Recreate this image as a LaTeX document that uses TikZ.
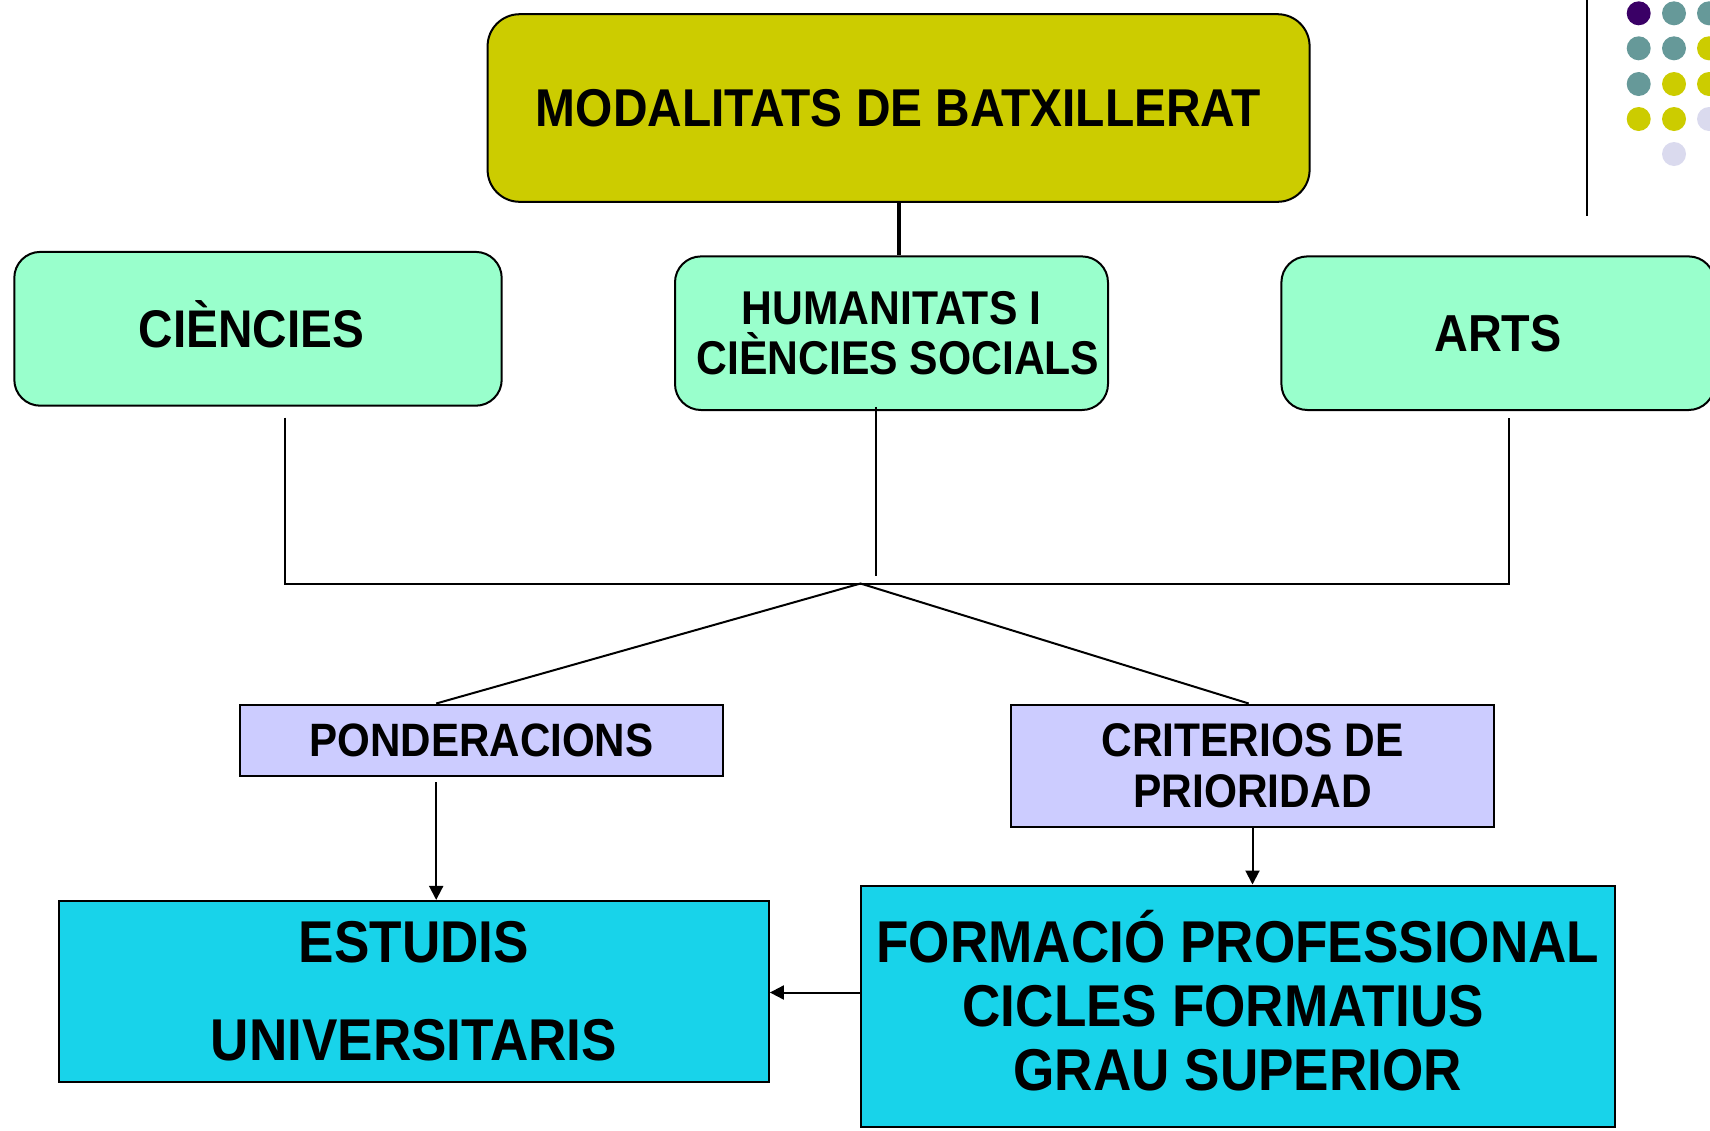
\documentclass[tikz,border=0pt]{standalone}
\usepackage{fontspec}
\setmainfont{Liberation Sans}[FakeStretch=0.9]
\usetikzlibrary{arrows.meta}
\definecolor{olivebox}{HTML}{CCCC00}
\definecolor{mint}{HTML}{99FFCC}
\definecolor{lav}{HTML}{CCCCFF}
\definecolor{cyanbox}{HTML}{18D3EA}
\definecolor{dotpurple}{HTML}{3A0066}
\definecolor{dotteal}{HTML}{669999}
\definecolor{dotyellow}{HTML}{CCCC00}
\definecolor{dotlav}{HTML}{DADAEE}
\begin{document}
\begin{tikzpicture}[x=0.5pt,y=-0.5pt,
  box/.style={draw=black, line width=1pt, inner sep=0pt, align=center, font=\bfseries},
  topbox/.style={box, fill=olivebox, rounded corners=16pt},
  greenbox/.style={box, fill=mint, rounded corners=13pt},
  lavbox/.style={box, fill=lav},
  cyanb/.style={box, fill=cyanbox},
  thinline/.style={line width=1pt},
  arr/.style={line width=1pt, -{Triangle[length=7pt,width=7pt]}},
  dot/.style={radius=6pt}]
\useasboundingbox (0,0) rectangle (1710,1131);

% decorative dots and line
\draw[line width=1.2pt] (1587,0) -- (1587,216);
\fill[dotpurple] (1638.7,13.3) circle[dot];
\fill[dotteal] (1674,13.3) circle[dot];
\fill[dotteal] (1709,13.3) circle[dot];
\fill[dotteal] (1638.7,48.3) circle[dot];
\fill[dotteal] (1674,48.3) circle[dot];
\fill[dotyellow] (1709,48.3) circle[dot];
\fill[dotteal] (1638.7,84) circle[dot];
\fill[dotyellow] (1674,84) circle[dot];
\fill[dotyellow] (1709,84) circle[dot];
\fill[dotyellow] (1638.7,119) circle[dot];
\fill[dotyellow] (1674,119) circle[dot];
\fill[dotlav] (1709,119) circle[dot];
\fill[dotlav] (1674,154) circle[dot];

% nodes
\node[topbox, minimum width=411pt, minimum height=93.8pt,
  font=\bfseries\fontsize{26.6}{30}\selectfont] (top) at (898.6,108) {MODALITATS DE BATXILLERAT};
\node[greenbox, minimum width=243.7pt, minimum height=76.9pt,
  font=\bfseries\fontsize{26.5}{30}\selectfont] (cien) at (258,328.8) {CI\smash{È}NCIES\kern6.5pt};
\node[greenbox, minimum width=216.5pt, minimum height=76.8pt,
  font=\bfseries\fontsize{23.7}{25}\selectfont] (hum) at (891.5,333.2) {HUMANITATS I\\\hbox{\kern6.5pt CIÈNCIES SOCIALS}};
\node[greenbox, minimum width=216.6pt, minimum height=76.8pt,
  font=\bfseries\fontsize{26}{30}\selectfont] (arts) at (1498,333.2) {ARTS};
\node[lavbox, minimum width=241.5pt, minimum height=35.5pt,
  font=\bfseries\fontsize{23.4}{26}\selectfont] (pond) at (481.5,740) {PONDERACIONS};
\node[lavbox, minimum width=241.5pt, minimum height=61.1pt,
  font=\bfseries\fontsize{23.6}{25.5}\selectfont] (crit) at (1252.5,765.6) {CRITERIOS DE\\PRIORIDAD};
\node[cyanb, minimum width=355pt, minimum height=90.5pt,
  font=\bfseries\fontsize{29.5}{49}\selectfont] (est) at (413.9,991.4) {ESTUDIS\\UNIVERSITARIS};
\node[cyanb, minimum width=377.4pt, minimum height=120.5pt,
  font=\bfseries\fontsize{29.5}{32}\selectfont] (form) at (1237.9,1006) {FORMACI\smash{Ó} PROFESSIONAL\\\hbox{CICLES FORMATIUS\kern14.7pt}\\GRAU SUPERIOR};

% connectors
\draw[line width=2pt] (top.south) -- (top.south |- hum.north);
\coordinate (cl) at (284.6,417.7);
\coordinate (cb) at (284.6,583.5);
\coordinate (rl) at (1509.4,417.7);
\coordinate (rb) at (1509.4,583.5);
\coordinate (hm) at (875.8,406.8);
\coordinate (hb) at (875.8,575.8);
\coordinate (apex) at (860.5,583.5);
\draw[thinline] (cl) -- (cb) -- (rb) -- (rl);
\draw[thinline] (hm) -- (hb);
\draw[thinline] ([xshift=-22.65pt]pond.north) -- (apex) -- ([xshift=-1.9pt]crit.north);
\draw[arr] ([xshift=-22.65pt,yshift=-2.75pt]pond.south) coordinate (p1) -- (p1 |- est.north);
\draw[arr] (crit.south) -- (crit.south |- form.north);
\draw[arr] ([yshift=6.75pt]form.west) coordinate (f1) -- (f1 -| est.east);
\end{tikzpicture}
\end{document}
